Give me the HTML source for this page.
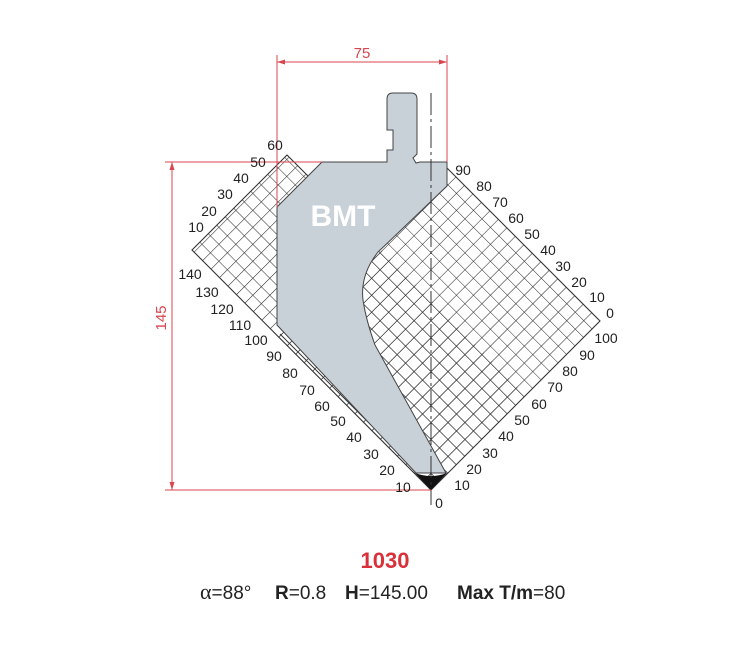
<!DOCTYPE html>
<html><head><style>
html,body{margin:0;padding:0;background:#fff;}
svg{display:block;}
text{font-family:"Liberation Sans",sans-serif;}
</style></head><body>
<svg width="740" height="652" viewBox="0 0 740 652" xmlns="http://www.w3.org/2000/svg">
<defs>
<pattern id="g" width="12" height="12" patternUnits="userSpaceOnUse" patternTransform="translate(431,490) rotate(45)">
<path d="M0 0H12M0 0V12" stroke="#2a2a2a" stroke-width="1.1" fill="none"/>
</pattern>
</defs>
<polygon points="192,250 287,155 526,395 431,490" fill="url(#g)"/>
<polygon points="431,490 600,321 442,163 273,332" fill="url(#g)"/>
<path d="M330,198 L287,155 L192,250 L431,490 L600,321 L442,163" fill="none" stroke="#333" stroke-width="1.1"/>
<line x1="280" y1="334" x2="418" y2="472" stroke="#333" stroke-width="1"/>
<!-- tool -->
<path d="M322,162 L387,162 L387,150 L393,150 L393,130 L387,130 L387,99 Q387,93 393,93 L411,93 Q417,93 417,99 L417,154 L413,158 L416,163 L420,162 L447,162 L447,186 L378,252 Q360,275 363,300 Q366,320 375,345 L446,473 L416,473 L277,325 L277,207 Z" fill="#c8d0d8" stroke="#444" stroke-width="1"/>
<path d="M415,473 Q431,479 447,473 L431,490 Z" fill="#111"/>
<text x="343" y="226" font-size="30" font-weight="bold" fill="#fff" text-anchor="middle">BMT</text>
<line x1="431" y1="93" x2="431" y2="505" stroke="#333" stroke-width="1" stroke-dasharray="22,4,3,4"/>
<!-- dimensions -->
<g stroke="#d9464f" stroke-width="1" fill="none">
<line x1="277" y1="55" x2="277" y2="207"/>
<line x1="447" y1="55" x2="447" y2="162"/>
<line x1="277" y1="62" x2="447" y2="62"/>
<line x1="165" y1="162" x2="322" y2="162"/>
<line x1="165" y1="490" x2="431" y2="490"/>
<line x1="172" y1="162" x2="172" y2="490"/>
</g>
<g fill="#d9464f">
<path d="M277,62 l8,-2.5 v5z"/><path d="M447,62 l-8,-2.5 v5z"/>
<path d="M172,162 l-2.5,8 h5z"/><path d="M172,490 l-2.5,-8 h5z"/>
</g>
<text x="362" y="58" font-size="15" fill="#d9464f" text-anchor="middle">75</text>
<text x="0" y="0" font-size="15" fill="#d9464f" text-anchor="middle" transform="translate(166,318) rotate(-90)">145</text>
<g font-size="14" fill="#222" text-anchor="middle">
<text x="275" y="150">60</text><text x="258" y="167">50</text><text x="241" y="183">40</text><text x="225" y="199">30</text><text x="209" y="216">20</text><text x="196" y="232">10</text>
<text x="190" y="279">140</text><text x="207" y="297">130</text><text x="222" y="314">120</text><text x="240" y="330">110</text><text x="256" y="345">100</text><text x="274" y="361">90</text><text x="290" y="378">80</text><text x="307" y="395">70</text><text x="322" y="411">60</text><text x="338" y="426">50</text><text x="354" y="442">40</text><text x="371" y="459">30</text><text x="387" y="475">20</text><text x="403" y="492">10</text>
<text x="463" y="175">90</text><text x="484" y="191">80</text><text x="500" y="207">70</text><text x="516" y="223">60</text><text x="532" y="239">50</text><text x="548" y="255">40</text><text x="563" y="271">30</text><text x="579" y="287">20</text><text x="597" y="302">10</text><text x="610" y="318">0</text>
<text x="606" y="343">100</text><text x="587" y="360">90</text><text x="570" y="376">80</text><text x="555" y="392">70</text><text x="539" y="409">60</text><text x="522" y="425">50</text><text x="506" y="441">40</text><text x="490" y="458">30</text><text x="474" y="474">20</text><text x="462" y="490">10</text><text x="439" y="508">0</text>
</g>
<text x="385" y="568" font-size="22" font-weight="bold" fill="#d9303a" text-anchor="middle">1030</text>
<g font-size="19" fill="#222">
<text x="200" y="599"><tspan font-family="Liberation Serif" font-size="22">α</tspan>=88°</text>
<text x="275" y="599"><tspan font-weight="bold">R</tspan>=0.8</text>
<text x="345" y="599"><tspan font-weight="bold">H</tspan>=145.00</text>
<text x="457" y="599"><tspan font-weight="bold">Max T/m</tspan>=80</text>
</g>
</svg>
</body></html>
